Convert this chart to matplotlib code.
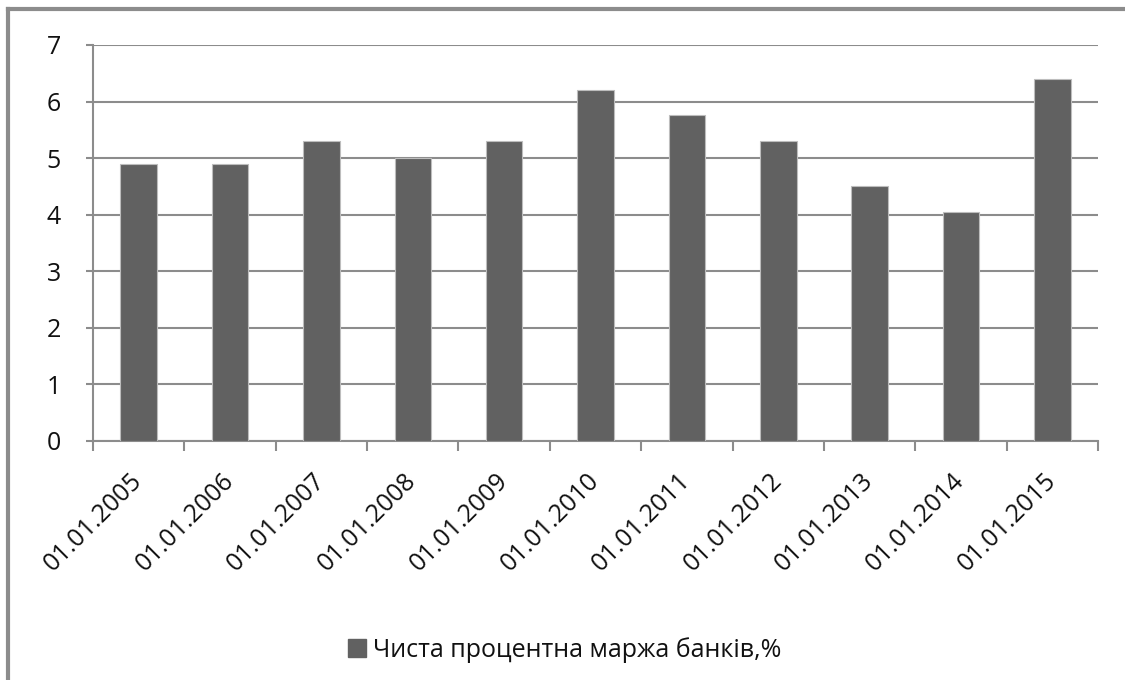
import matplotlib
matplotlib.use("Agg")
import matplotlib.pyplot as plt
from matplotlib.lines import Line2D
from matplotlib.patches import Patch

categories = ["01.01.2005", "01.01.2006", "01.01.2007", "01.01.2008", "01.01.2009",
              "01.01.2010", "01.01.2011", "01.01.2012", "01.01.2013", "01.01.2014",
              "01.01.2015"]
values = [4.9, 4.9, 5.3, 5.0, 5.3, 6.2, 5.77, 5.3, 4.51, 4.04, 6.4]
yticks = [0, 1, 2, 3, 4, 5, 6, 7]
series_name = "Чиста процентна маржа банків,%"

plt.rcParams['font.family'] = ['Open Sans', 'DejaVu Sans']

W, H = 1125, 680
fig = plt.figure(figsize=(W / 100, H / 100), dpi=100)
ax = fig.add_axes([93 / W, 1 - 441 / H, (1098 - 93) / W, (441 - 45) / H])

grey = '#8c8c8c'
x = list(range(len(categories)))
ax.bar(x, values, width=0.4, color='#616161', edgecolor='#bdbdbd', linewidth=0.8, zorder=3)

ax.set_xlim(-0.5, len(categories) - 0.5)
ax.set_ylim(0, 7)
ax.set_yticks(yticks)
ax.set_yticklabels([str(t) for t in yticks], fontsize=18, color='#111111')
ax.yaxis.grid(True, color=grey, linewidth=1.5, zorder=0)
ax.set_axisbelow(True)

for s in ['top', 'right']:
    ax.spines[s].set_visible(False)
for s in ['left', 'bottom']:
    ax.spines[s].set_color(grey)
    ax.spines[s].set_linewidth(1.5)

ax.tick_params(axis='y', length=5, width=1.5, color=grey, pad=18)

ax.set_xticks(x)
ax.set_xticklabels(categories, fontsize=18, rotation=45, ha='right', va='center',
                   rotation_mode='anchor', color='#111111')
ax.tick_params(axis='x', which='major', length=0, pad=26)
ax.set_xticks([i - 0.5 for i in range(len(categories) + 1)], minor=True)
ax.tick_params(axis='x', which='minor', length=7, width=1.5, color=grey)

# legend
handle = Patch(facecolor='#616161', edgecolor='#616161')
fig.legend([handle], [series_name], loc='center', bbox_to_anchor=(565 / W, 1 - 650 / H),
           frameon=False, fontsize=18, handlelength=0.7, handleheight=0.7,
           handletextpad=0.3, labelcolor='#111111')

# outer frame (left and top only)
fig.add_artist(Line2D([8 / W, 8 / W], [0, 1 - 9 / H], transform=fig.transFigure,
                      color=grey, linewidth=3))
fig.add_artist(Line2D([8 / W, 1], [1 - 9 / H, 1 - 9 / H], transform=fig.transFigure,
                      color=grey, linewidth=3))

fig.savefig("out.png", dpi=100, facecolor='white')
